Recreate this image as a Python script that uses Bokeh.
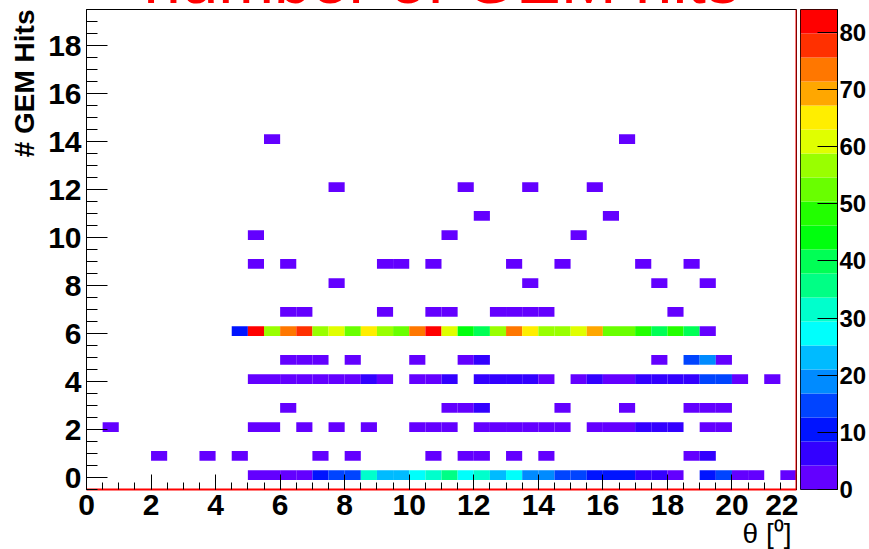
import numpy as np
from bokeh.plotting import figure
from bokeh.models import Range1d, FixedTicker, LinearColorMapper, ColumnDataSource, Span, Title
from bokeh.layouts import row
from bokeh.embed import file_html
from bokeh.resources import INLINE

# ---------------- data ----------------
title_text = "number of GEM hits"
y_title = "# GEM Hits"
x_title = "\u03b8 [\u2070]"

theta_bin = 0.5          # width of a theta bin
hits_low = -0.5          # low edge of the hits axis binning
hits_bin = 0.4           # width of a hits bin
z_max = 84

x_major = list(range(0, 23, 2))
y_major = list(range(0, 19, 2))
z_major = list(range(0, 81, 10))

# each entry: (theta of first bin, [counts in consecutive theta bins])
hits_0 = [(5.0, [3, 3, 2, 3, 10, 14, 15, 31, 23, 24, 27, 32, 36, 28, 31, 23, 28, 19, 18, 15, 14, 11, 10, 11, 7, 6, 3]),
          (19.0, [11, 15, 2, 1]), (21.5, [1])]
hits_1 = [(2.0, [1]), (3.5, [1]), (4.5, [1]), (7.0, [1]), (8.0, [1]), (10.5, [1]), (11.5, [1, 1]),
          (13.0, [1]), (14.0, [1]), (18.5, [1, 5])]
hits_2 = [(0.5, [1]), (5.0, [1, 1]), (6.5, [1]), (7.5, [1]), (8.5, [1]), (10.0, [1, 2, 1]),
          (12.0, [2, 1, 2, 1, 1, 2]), (15.5, [3, 2, 4, 6, 7, 5]), (19.0, [2, 1])]
hits_3 = [(6.0, [1]), (11.0, [1, 2, 5]), (14.5, [1]), (16.5, [1]), (18.5, [1, 2, 1])]
hits_4 = [(5.0, [2, 1, 3, 2, 2, 3, 4, 6, 3]), (10.0, [2, 3, 5]), (12.0, [6, 7, 6, 5, 3]),
          (15.0, [3, 5, 4, 2, 6, 7, 7, 6, 13, 14, 3]), (21.0, [1])]
hits_5 = [(6.0, [1, 2, 1]), (8.0, [1]), (10.0, [1]), (11.5, [2, 5]), (17.5, [1]), (18.5, [14, 19, 2])]
hits_6 = [(4.5, [10, 82, 56, 73, 77, 57, 61, 52, 65, 57, 53, 74, 84, 60, 44, 39, 55, 73, 66, 56,
                 57, 60, 69, 53, 52, 47, 39, 49, 40, 2])]
hits_7 = [(6.0, [1, 1]), (9.0, [1]), (10.5, [1, 1]), (12.5, [1, 2, 1, 1]), (18.0, [1])]
hits_8 = [(7.5, [1]), (13.5, [1]), (17.5, [1]), (19.0, [1])]
hits_9 = [(5.0, [1]), (6.0, [1]), (9.0, [1, 1]), (10.5, [1]), (13.0, [1]), (14.5, [1]), (17.0, [1]), (18.5, [1])]
hits_10 = [(5.0, [1]), (11.0, [1]), (15.0, [1])]
hits_11 = [(12.0, [1]), (16.0, [1])]
hits_12 = [(7.5, [1]), (11.5, [1]), (13.5, [1]), (15.5, [1])]
hits_14 = [(5.5, [1]), (16.5, [1])]

rows = {0: hits_0, 1: hits_1, 2: hits_2, 3: hits_3, 4: hits_4, 5: hits_5, 6: hits_6,
        7: hits_7, 8: hits_8, 9: hits_9, 10: hits_10, 11: hits_11, 12: hits_12, 14: hits_14}

# ROOT "pretty" palette, 20 contour levels (HLS spectrum violet -> red)
palette = ["#6300FF", "#3300FF", "#0014FF", "#0044FF", "#008BFF", "#00BBFF", "#00FFFC", "#00FFCC",
           "#00FF85", "#00FF55", "#00FF0E", "#22FF00", "#69FF00", "#99FF00", "#E0FF00", "#FFEE00",
           "#FFA700", "#FF7700", "#FF3000", "#FF0000"]

# ---------------- build histogram cells ----------------
left, right, bottom, top, count = [], [], [], [], []
for h, segs in rows.items():
    k = int(np.floor((h - hits_low) / hits_bin + 1e-9))
    b = hits_low + k * hits_bin
    for t0, counts in segs:
        for i, c in enumerate(counts):
            lo = t0 + i * theta_bin
            left.append(lo)
            right.append(lo + theta_bin)
            bottom.append(b)
            top.append(b + hits_bin)
            count.append(c)
src = ColumnDataSource(dict(left=left, right=right, bottom=bottom, top=top, count=count))
mapper = LinearColorMapper(palette=palette, low=0, high=z_max)

FONT = "Liberation Sans"
HIDE = 90            # the title sits above the window top, as in the reference
H = 549 + HIDE

p = figure(width=798, height=H, x_range=Range1d(0, 22), y_range=Range1d(-0.5, 19.5),
           output_backend="svg", toolbar_location=None, title=None,
           min_border_left=86, min_border_right=2, min_border_top=9 + HIDE, min_border_bottom=60)
p.background_fill_color = "white"
p.border_fill_color = "white"
p.outline_line_color = "black"
p.outline_line_width = 1
p.grid.visible = False

p.quad(left="left", right="right", bottom="bottom", top="top", source=src,
       fill_color={"field": "count", "transform": mapper}, line_color=None)

xa = p.xaxis[0]
xa.ticker = FixedTicker(ticks=x_major, minor_ticks=list(np.arange(0, 22.01, 0.5)))
ya = p.yaxis[0]
ya.ticker = FixedTicker(ticks=y_major, minor_ticks=list(np.arange(-0.5, 19.51, 0.5)))
for ax, tin, mtin in ((xa, 15, 7), (ya, 21, 11)):
    ax.major_tick_in = tin
    ax.major_tick_out = 0
    ax.minor_tick_in = mtin
    ax.minor_tick_out = 0
    ax.major_tick_line_color = "black"
    ax.minor_tick_line_color = "black"
    ax.major_label_text_font = FONT
    ax.major_label_text_font_style = "bold"
    ax.major_label_text_font_size = "30px"
    ax.major_label_text_color = "black"
    ax.major_label_standoff = 5
xa.axis_line_color = "red"
xa.axis_line_width = 2
ya.axis_line_color = "black"

p.add_layout(Span(location=22, dimension="height", line_color="red", line_width=2))

p.add_layout(Title(text=title_text, align="center", vertical_align="bottom", standoff=-15,
                   text_font=FONT, text_font_style="normal", text_font_size="67px",
                   text_color="red"), "above")
p.add_layout(Title(text=y_title, align="right", vertical_align="bottom", standoff=12,
                   text_font=FONT, text_font_style="bold", text_font_size="28px",
                   text_color="black"), "left")
p.add_layout(Title(text=x_title, align="right", vertical_align="bottom", standoff=-3, offset=5,
                   text_font=FONT, text_font_style="normal", text_font_size="28px",
                   text_color="black"), "below")

# ---------------- colour scale ----------------
nb = len(palette)
edges = np.linspace(0, z_max, nb + 1)
pc = figure(width=71, height=H, x_range=Range1d(0, 1), y_range=Range1d(0, z_max),
            output_backend="svg", toolbar_location=None, title=None,
            x_axis_type=None, y_axis_location="right",
            min_border_left=2, min_border_right=28, min_border_top=9 + HIDE, min_border_bottom=60)
pc.grid.visible = False
pc.outline_line_color = "black"
pc.quad(left=0, right=1, bottom=edges[:-1], top=edges[1:], fill_color=palette, line_color=None)
za = pc.yaxis[0]
za.ticker = FixedTicker(ticks=z_major, minor_ticks=[])
za.major_tick_in = 20
za.major_tick_out = 0
za.minor_tick_in = 0
za.minor_tick_out = 0
za.axis_line_color = "black"
za.major_label_text_font = FONT
za.major_label_text_font_style = "bold"
za.major_label_text_font_size = "24px"
za.major_label_text_color = "black"
za.major_label_standoff = 2

layout = row(p, pc, styles={"margin-top": "-%dpx" % HIDE})
open("out.html", "w").write(file_html(layout, INLINE))
